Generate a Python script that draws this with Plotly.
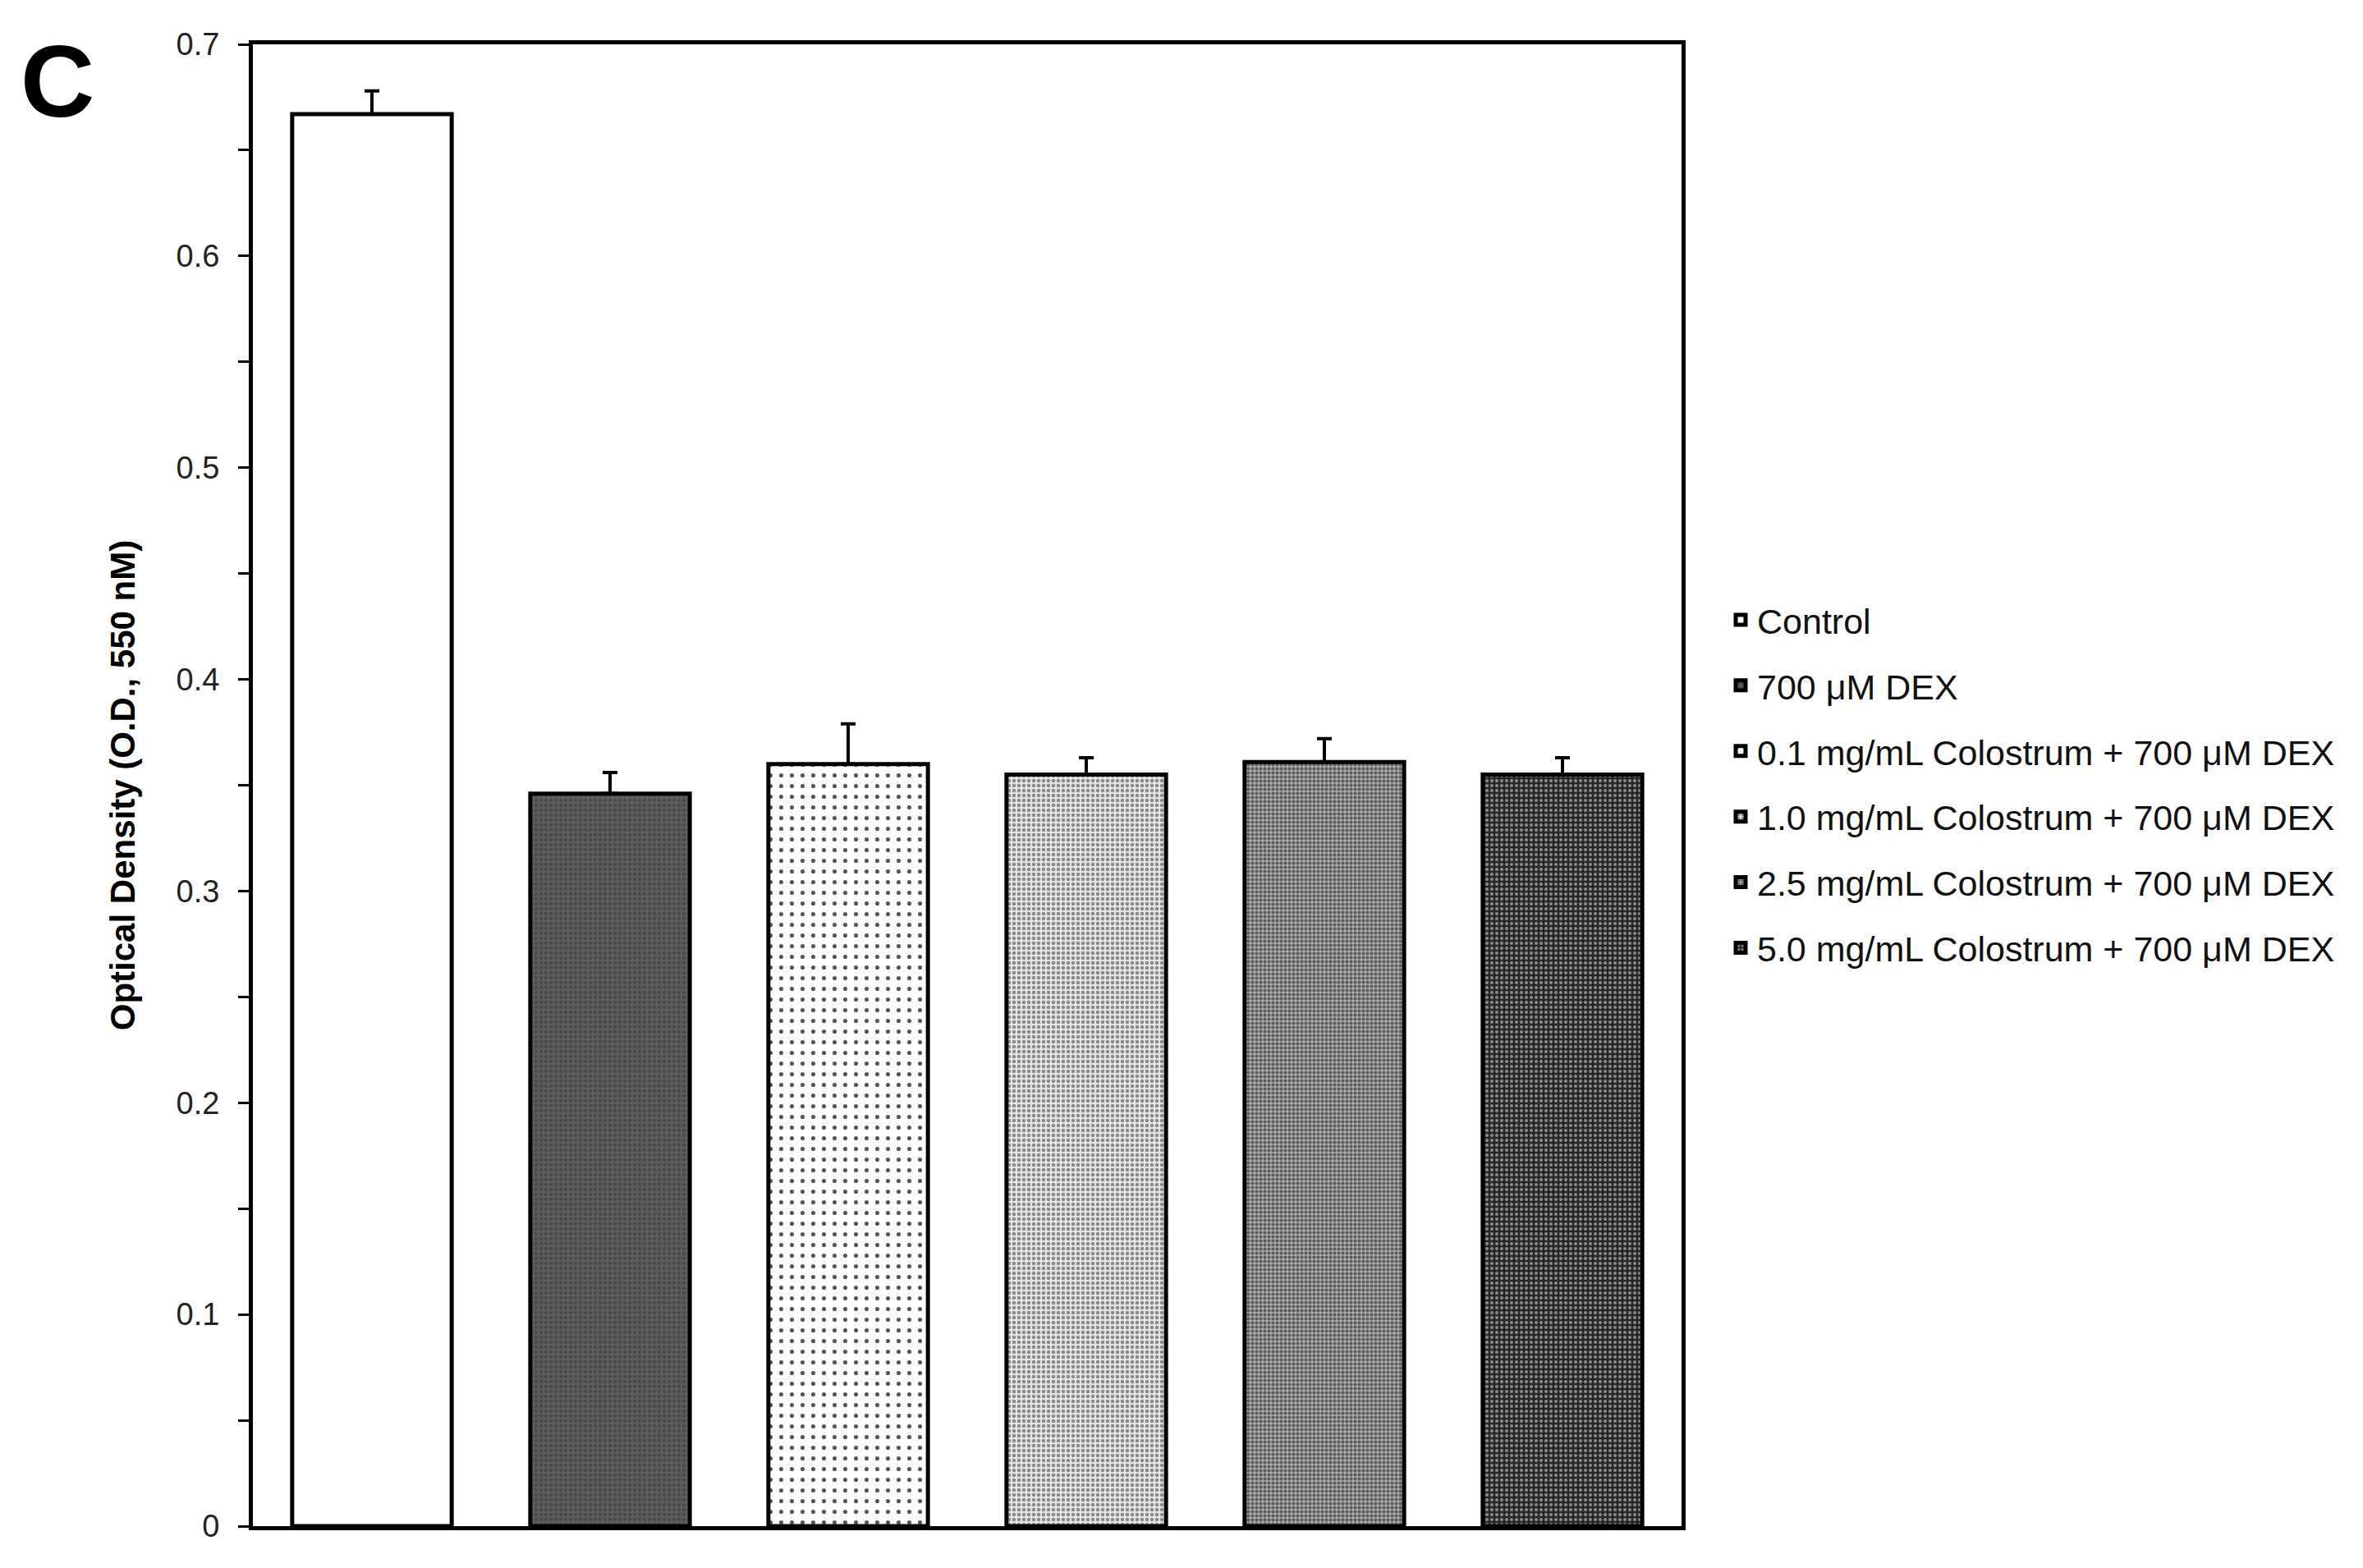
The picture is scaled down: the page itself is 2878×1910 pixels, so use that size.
import plotly.graph_objects as go

categories = ["Control", "700 μM DEX",
              "0.1 mg/mL Colostrum + 700 μM DEX",
              "1.0 mg/mL Colostrum + 700 μM DEX",
              "2.5 mg/mL Colostrum + 700 μM DEX",
              "5.0 mg/mL Colostrum + 700 μM DEX"]
values = [0.667, 0.346, 0.360, 0.355, 0.361, 0.355]
errors = [0.011, 0.010, 0.019, 0.008, 0.011, 0.008]
y_ticks = [0, 0.1, 0.2, 0.3, 0.4, 0.5, 0.6, 0.7]
y_ticklabels = ["0", "0.1", "0.2", "0.3", "0.4", "0.5", "0.6", "0.7"]

patterns = [
    dict(color="white", pattern=None),
    dict(color="#585858", pattern=dict(shape=".", fgcolor="#4a4a4a", bgcolor="#5e5e5e", size=6, solidity=0.4)),
    dict(color="white", pattern=dict(shape=".", fgcolor="#555555", bgcolor="white", size=13, solidity=0.12)),
    dict(color="#c4c4c4", pattern=dict(shape=".", fgcolor="#8a8a8a", bgcolor="#e6e6e6", size=6, solidity=0.45)),
    dict(color="#888888", pattern=dict(shape=".", fgcolor="#5a5a5a", bgcolor="#a8a8a8", size=5, solidity=0.5)),
    dict(color="#444444", pattern=dict(shape=".", fgcolor="#8c8c8c", bgcolor="#262626", size=6, solidity=0.35)),
]

FONT = "Liberation Sans, Arial, sans-serif"

fig = go.Figure()
for i, (cat, v, e) in enumerate(zip(categories, values, errors)):
    p = patterns[i]
    marker = dict(color=p["color"], line=dict(color="black", width=5))
    if p["pattern"] is not None:
        marker["pattern"] = dict(**p["pattern"], fillmode="replace")
    fig.add_trace(go.Bar(
        x=[cat], y=[v], name=cat, width=0.67, marker=marker,
        legendgroup=cat,
        error_y=dict(type="data", array=[e], symmetric=False, arrayminus=[0],
                     color="black", thickness=4, width=9),
    ))

# page body has an 8px margin; work in screen coordinates then convert
OFF = 8
W, H = 2878 - 2 * OFF, 1910 - 2 * OFF
plot_left, plot_top, plot_right, plot_bottom = 308, 54, 2048, 1859  # screen px
L = plot_left - OFF
T = plot_top - OFF
R = W - (plot_right - OFF)
B = H - (plot_bottom - OFF)
pw = W - L - R
ph = H - T - B


def px(x):
    return (x - plot_left) / pw


def py(y):
    return (plot_bottom - y) / ph


fig.update_layout(
    width=W, height=H,
    margin=dict(l=L, r=R, t=T, b=B, autoexpand=False),
    paper_bgcolor="white", plot_bgcolor="white",
    barmode="overlay",
    font=dict(family=FONT, color="#222222"),
    showlegend=True,
    legend=dict(x=px(2100), y=py(955), xanchor="left", yanchor="middle",
                font=dict(size=43, family=FONT, color="#111111"),
                tracegroupgap=21, traceorder="grouped",
                bgcolor="rgba(0,0,0,0)"),
    xaxis=dict(showticklabels=False, ticks="", showgrid=False, automargin=False,
               showline=True, linecolor="black", linewidth=5, mirror=True,
               categoryorder="array", categoryarray=categories),
    yaxis=dict(range=[0, 0.7], tickvals=y_ticks, ticktext=y_ticklabels,
               automargin=False,
               ticks="outside", ticklen=13, tickwidth=3, tickcolor="black",
               ticklabelstandoff=15,
               tickfont=dict(size=38, family=FONT, color="#222222"),
               showgrid=False, zeroline=False,
               showline=True, linecolor="black", linewidth=5, mirror=True,
               minor=dict(tickvals=[0.05, 0.15, 0.25, 0.35, 0.45, 0.55, 0.65],
                          ticks="outside", ticklen=13, tickwidth=3, tickcolor="black"),
               title=dict(text="<b>Optical Density (O.D., 550 nM)</b>",
                          font=dict(size=42, family=FONT, color="black"),
                          standoff=38)),
    annotations=[dict(text="<b>C</b>", x=px(70), y=py(98),
                      xref="paper", yref="paper", xanchor="center", yanchor="middle",
                      showarrow=False,
                      font=dict(size=125, family=FONT, color="black"))],
)

fig.write_html("out.html")
